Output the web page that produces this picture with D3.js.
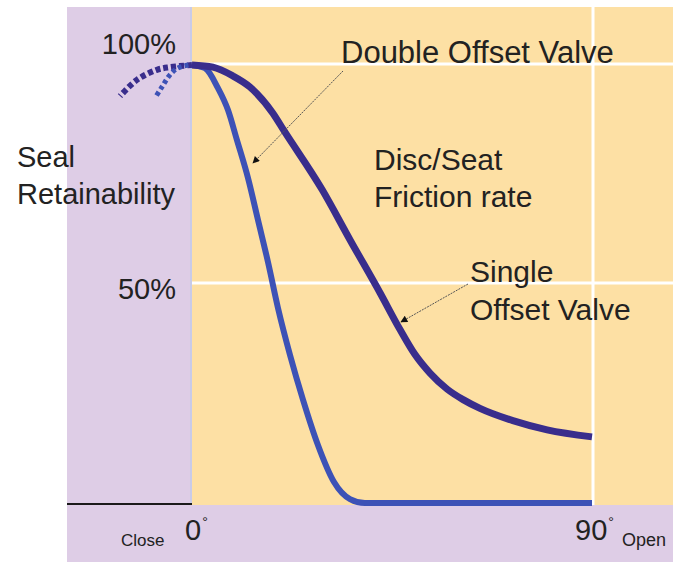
<!DOCTYPE html>
<html>
<head>
<meta charset="utf-8">
<script src="https://cdn.jsdelivr.net/npm/d3@7"></script>
<style>
  html, body { margin: 0; padding: 0; background: #ffffff; }
  svg { display: block; }
  text { font-family: "Liberation Sans", Arial, Helvetica, sans-serif; fill: #222; }
</style>
</head>
<body>
<svg id="chart" width="684" height="564"></svg>
<script>
// ---- data (angle in degrees, seal retainability in %) ----
const singleAngles = [0, 4.7, 9.2, 13, 18.2, 20.7, 29.3, 35.6, 42.3, 46.8, 50.1, 53.6, 57.4, 61, 64.8, 72.2, 79.9, 90];
const singleValues = [100, 99.5, 97.5, 95, 89, 85, 71.5, 60, 48, 39.6, 34.0, 29.6, 26.0, 23.6, 21.6, 18.8, 16.7, 15.1];

const doubleAngles = [0, 2.9, 5.85, 8.1, 10.1, 12.6, 14.85, 17.1, 19.35, 22.05, 25, 28.35, 31.95, 35.55, 38.9, 90];
const doubleValues = [100, 99.3, 94.7, 89.7, 82.9, 74.2, 64.6, 55, 44.5, 33.8, 23.5, 13.2, 4.8, 0.9, 0, 0];

// dotted extensions beyond the closed position
const singleExtAngles = [0, -5, -7.9, -12.4, -16.2];
const singleExtValues = [100, 99.5, 98.9, 96.6, 92.9];
const doubleExtAngles = [-0.8, -3.2, -5, -6.75, -8.3];
const doubleExtValues = [100, 99.3, 97.7, 95, 92.5];

const yTicks = [100, 50];
const yTickLabels = ["100%", "50%"];
const xTicks = [0, 90];
const xTickLabels = ["0", "90"];
const xEndLabels = ["Close", "Open"];
const yTitle = ["Seal", "Retainability"];
const midLabel = ["Disc/Seat", "Friction rate"];
const doubleLabel = ["Double Offset Valve"];
const singleLabel = ["Single", "Offset Valve"];

// ---- layout ----
const svg = d3.select("#chart");
const panel = { left: 67, right: 673, top: 7, bottom: 562 };
const plotBottom = 505;

const x = d3.scaleLinear().domain([0, 90]).range([192, 592]);
const y = d3.scaleLinear().domain([0, 100]).range([503, 65]);

const purple = "#392d8c";
const blue = "#3d52b6";

// backgrounds
svg.append("rect")
  .attr("x", panel.left).attr("y", panel.top)
  .attr("width", panel.right - panel.left).attr("height", panel.bottom - panel.top)
  .attr("fill", "#decde6");
svg.append("rect")
  .attr("x", x(0)).attr("y", panel.top)
  .attr("width", panel.right - x(0)).attr("height", plotBottom - panel.top)
  .attr("fill", "#fde0a4");

// vertical axis hairline
svg.append("line")
  .attr("x1", x(0) - 1).attr("x2", x(0) - 1)
  .attr("y1", panel.top).attr("y2", plotBottom)
  .attr("stroke", "#c9cbe8").attr("stroke-width", 2);

// white gridlines
svg.selectAll("line.hgrid").data(yTicks).join("line")
  .attr("class", "hgrid")
  .attr("x1", x(0)).attr("x2", panel.right)
  .attr("y1", d => y(d) - 1).attr("y2", d => y(d) - 1)
  .attr("stroke", "#ffffff").attr("stroke-width", 3);
svg.append("line")
  .attr("x1", x(90) + 1).attr("x2", x(90) + 1)
  .attr("y1", panel.top).attr("y2", plotBottom)
  .attr("stroke", "#ffffff").attr("stroke-width", 3);

// bottom axis line
svg.append("line")
  .attr("x1", panel.left).attr("x2", x(0))
  .attr("y1", plotBottom - 1).attr("y2", plotBottom - 1)
  .attr("stroke", "#1a1a1a").attr("stroke-width", 2);
const defs = svg.append("defs");
const grad = defs.append("linearGradient").attr("id", "axisGrad")
  .attr("x1", "0%").attr("x2", "100%");
grad.append("stop").attr("offset", "0%").attr("stop-color", "#e2451f");
grad.append("stop").attr("offset", "100%").attr("stop-color", "#f2a21e");
svg.append("line")
  .attr("x1", x(0)).attr("x2", x(37))
  .attr("y1", plotBottom - 2).attr("y2", plotBottom - 2)
  .attr("stroke", "url(#axisGrad)").attr("stroke-width", 3);

// ---- curves ----
const zip = (a, b) => a.map((v, i) => [v, b[i]]);
const smooth = d3.line()
  .x(d => x(d[0])).y(d => y(d[1]))
  .curve(d3.curveCatmullRom.alpha(0.5));
const mono = d3.line()
  .x(d => x(d[0])).y(d => y(d[1]))
  .curve(d3.curveMonotoneX);

svg.append("path")
  .datum(zip(singleExtAngles, singleExtValues))
  .attr("d", smooth).attr("fill", "none")
  .attr("stroke", purple).attr("stroke-width", 6)
  .attr("stroke-dasharray", "5,3");
svg.append("path")
  .datum(zip(doubleExtAngles, doubleExtValues))
  .attr("d", smooth).attr("fill", "none")
  .attr("stroke", blue).attr("stroke-width", 5)
  .attr("stroke-dasharray", "4,3");

svg.append("path")
  .datum(zip(doubleAngles, doubleValues))
  .attr("d", mono).attr("fill", "none")
  .attr("stroke", blue).attr("stroke-width", 6);
svg.append("path")
  .datum(zip(singleAngles, singleValues))
  .attr("d", mono).attr("fill", "none")
  .attr("stroke", purple).attr("stroke-width", 7);

// ---- y axis labels ----
svg.selectAll("text.ytick").data(yTicks).join("text")
  .attr("class", "ytick")
  .attr("x", 176)
  .attr("y", d => y(d) + (d === 100 ? -11 : 15))
  .attr("text-anchor", "end")
  .attr("font-size", 29)
  .text((d, i) => yTickLabels[i]);

svg.selectAll("text.ytitle").data(yTitle).join("text")
  .attr("class", "ytitle")
  .attr("x", 17).attr("y", (d, i) => 167 + i * 37)
  .attr("font-size", 29)
  .text(d => d);

// ---- x axis labels ----
const xl = svg.selectAll("g.xtick").data(xTicks).join("g")
  .attr("class", "xtick")
  .attr("transform", d => `translate(${x(d)},540)`);
xl.append("text")
  .attr("x", (d, i) => i === 0 ? -7 : -17)
  .attr("font-size", 29)
  .text((d, i) => xTickLabels[i])
  .append("tspan")
  .attr("font-size", 14).attr("dy", -13).attr("dx", 1)
  .text("°");

svg.append("text")
  .attr("x", x(0) - 71).attr("y", 546)
  .attr("font-size", 17).attr("fill", "#333")
  .text(xEndLabels[0]);
svg.append("text")
  .attr("x", x(90) + 30).attr("y", 546)
  .attr("font-size", 18).attr("fill", "#333")
  .text(xEndLabels[1]);

// ---- annotations ----
svg.selectAll("text.mid").data(midLabel).join("text")
  .attr("class", "mid")
  .attr("x", 374).attr("y", (d, i) => 170 + i * 37)
  .attr("font-size", 30)
  .text(d => d);

svg.append("text")
  .attr("x", 341).attr("y", 63)
  .attr("font-size", 31)
  .text(doubleLabel[0]);

svg.selectAll("text.single").data(singleLabel).join("text")
  .attr("class", "single")
  .attr("x", 470).attr("y", (d, i) => 282 + i * 38)
  .attr("font-size", 30)
  .text(d => d);

// pointer lines with arrowheads
defs.append("marker").attr("id", "arrow")
  .attr("viewBox", "0 0 10 10").attr("refX", 9).attr("refY", 5)
  .attr("markerWidth", 9).attr("markerHeight", 7)
  .attr("markerUnits", "userSpaceOnUse")
  .attr("orient", "auto")
  .append("path").attr("d", "M0,0 L10,5 L0,10 Z").attr("fill", "#111");

svg.append("line")
  .attr("x1", 343).attr("x2", 253)
  .attr("y1", 71).attr("y2", 163)
  .attr("stroke", "#555").attr("stroke-width", 1)
  .attr("stroke-dasharray", "2,1")
  .attr("marker-end", "url(#arrow)");
svg.append("line")
  .attr("x1", 468).attr("x2", 401)
  .attr("y1", 284).attr("y2", 322)
  .attr("stroke", "#555").attr("stroke-width", 1)
  .attr("stroke-dasharray", "2,1")
  .attr("marker-end", "url(#arrow)");
</script>
</body>
</html>
